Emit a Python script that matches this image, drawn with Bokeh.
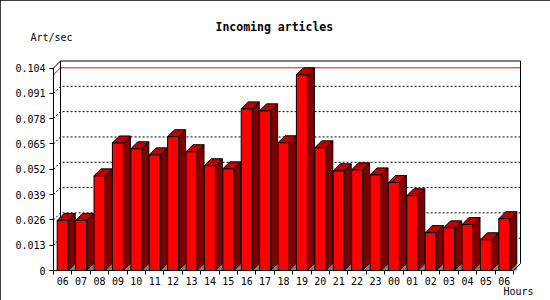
from bokeh.plotting import figure
from bokeh.models import Range1d, FixedTicker, LinearAxis, Title
from bokeh.embed import file_html
from bokeh.resources import INLINE

# ---- data ----
hours = ["06", "07", "08", "09", "10", "11", "12", "13", "14", "15", "16", "17",
         "18", "19", "20", "21", "22", "23", "00", "01", "02", "03", "04", "05", "06"]
rates = [0.0257, 0.0257, 0.0486, 0.0655, 0.0625, 0.0594, 0.0687, 0.0610, 0.0538,
         0.0522, 0.0830, 0.0820, 0.0656, 0.1005, 0.0630, 0.0512, 0.0517, 0.0491,
         0.0452, 0.0384, 0.0195, 0.0219, 0.0236, 0.0158, 0.0266]
y_ticks = [0, 0.013, 0.026, 0.039, 0.052, 0.065, 0.078, 0.091, 0.104]
y_tick_labels = ["0", "0.013", "0.026", "0.039", "0.052", "0.065", "0.078", "0.091", "0.104"]
title_text = "Incoming articles"
y_title = "Art/sec"
x_title = "Hours"

# ---- geometry (pixel scale helpers) ----
GW = 18.4                 # px per hour slot
SY = 202.5 / 0.104        # px per unit of value
DX = 7 / GW               # 3-D depth offset, x
DY = 7 / SY               # 3-D depth offset, y
HALF = 5.5 / GW           # half width of bar front
n = len(hours)
ymax = y_ticks[-1]
FONT = "DejaVu Sans Mono"

p = figure(width=550, height=300,
           x_range=Range1d(-2 / GW, (522 - 53) / GW),
           y_range=Range1d(-2 / SY, (270 - 59) / SY),
           x_axis_type=None, y_axis_type=None,
           output_backend="svg", toolbar_location=None,
           min_border_left=51, min_border_right=28,
           min_border_top=59, min_border_bottom=28)
p.outline_line_color = None
p.background_fill_color = "white"
p.border_fill_color = "white"
p.styles = {"outline": "1px solid black", "outline-offset": "-1px"}

# titles
p.title.text = title_text
p.title.align = "left"
p.title.offset = 164
p.title.vertical_align = "bottom"
p.title.text_font = FONT
p.title.text_font_size = "11.5px"
p.title.text_font_style = "bold"
p.title.text_color = "black"
p.title.standoff = -35

p.add_layout(Title(text=y_title, align="left", offset=-21, standoff=30,
                   vertical_align="top",
                   text_font=FONT, text_font_size="10px", text_font_style="normal",
                   text_color="black"), "above")

# axes
yax = LinearAxis(ticker=FixedTicker(ticks=y_ticks))
yax.major_label_overrides = {t: s for t, s in zip(y_ticks, y_tick_labels)}
yax.axis_line_color = None
yax.major_tick_in = 2
yax.major_tick_out = 2
yax.major_tick_line_color = "black"
yax.major_label_standoff = 4
yax.major_label_text_font = FONT
yax.major_label_text_font_size = "10px"
yax.major_label_text_color = "black"
p.add_layout(yax, "left")

centers = [i + 0.5 for i in range(n)]
xax = LinearAxis(ticker=FixedTicker(ticks=centers, minor_ticks=list(range(n + 1))))
xax.major_label_overrides = {c: h for c, h in zip(centers, hours)}
xax.axis_line_color = None
xax.major_tick_line_color = None
xax.major_tick_in = 0
xax.major_tick_out = 3
xax.minor_tick_in = 2
xax.minor_tick_out = 2
xax.minor_tick_line_color = "black"
xax.major_label_standoff = 1
xax.major_label_text_font = FONT
xax.major_label_text_font_size = "10px"
xax.major_label_text_color = "black"
p.add_layout(xax, "below")

p.add_layout(Title(text=x_title, align="right", offset=-11, standoff=-7,
                   text_font=FONT, text_font_size="10px", text_font_style="normal",
                   text_color="black"), "below")

# grid lines on back wall + left wall stubs (dotted)
gx, gy = [], []
for t in y_ticks[1:-1]:
    gx.append([0, DX, n + DX])
    gy.append([t, t + DY, t + DY])
p.multi_line(gx, gy, line_color="black", line_width=1, line_dash="2 2")

# max value line (red)
vmax = max(rates)
p.line([0, DX, n + DX], [vmax, vmax + DY, vmax + DY], line_color="#ff0000", line_width=1)

# back wall frame
p.multi_line([[DX, n + DX], [n + DX, n + DX], [DX, DX]],
             [[ymax + DY, ymax + DY], [DY, ymax + DY], [DY, ymax + DY]],
             line_color="black", line_width=1)

# bars
lefts = [c - HALF for c in centers]
rights = [c + HALF for c in centers]
sh_x = [[r, r + DX, r + DX] for r in rights]
sh_y = [[0, DY, 0] for _ in rights]
p.patches(sh_x, sh_y, fill_color="#808080", line_color=None)

side_x = [[r, r + DX, r + DX, r] for r in rights]
side_y = [[0, DY, v + DY, v] for v in rates]
p.patches(side_x, side_y, fill_color="#800000", line_color="black", line_width=1)

top_x = [[l, r, r + DX, l + DX] for l, r in zip(lefts, rights)]
top_y = [[v, v, v + DY, v + DY] for v in rates]
p.patches(top_x, top_y, fill_color="#c00000", line_color="black", line_width=1)

p.quad(left=lefts, right=rights, bottom=0, top=rates,
       fill_color="#ff0000", line_color="black", line_width=1)

# front frame lines
p.multi_line([[0, 0], [0, DX], [0, n], [n, n + DX]],
             [[0, ymax], [ymax, ymax + DY], [0, 0], [0, DY]],
             line_color="black", line_width=1)

open("out.html", "w").write(file_html(p, INLINE))
